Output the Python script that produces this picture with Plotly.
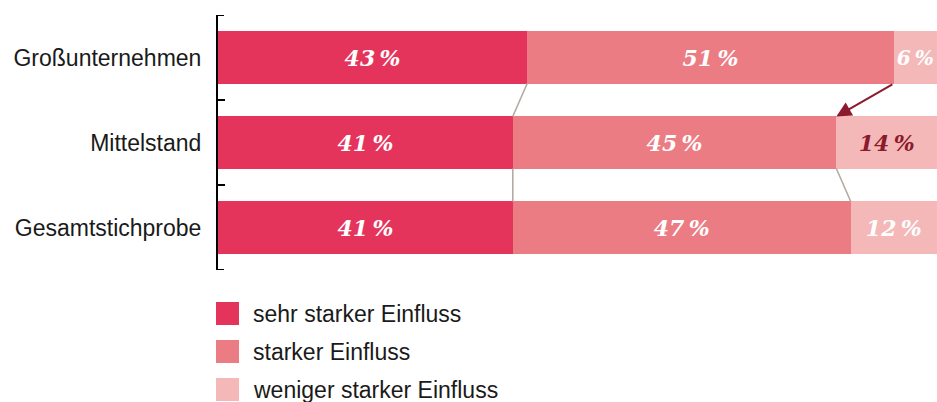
import plotly.graph_objects as go
import numpy as np

categories = ["Großunternehmen", "Mittelstand", "Gesamtstichprobe"]
series_names = ["sehr starker Einfluss", "starker Einfluss", "weniger starker Einfluss"]
sehr_stark = [43, 41, 41]
stark = [51, 45, 47]
weniger = [6, 14, 12]

colors = ["#e5345b", "#ec7c83", "#f5b8b8"]
label_colors = [["white", "white", "white"],
                ["white", "white", "white"],
                ["white", "#8b1a2e", "white"]]
dark_red = "#8b1a2e"
connector = "#b3aaa2"

values = [sehr_stark, stark, weniger]

fig = go.Figure()
for i, (name, vals) in enumerate(zip(series_names, values)):
    fig.add_trace(go.Bar(
        y=categories, x=vals, orientation="h", name=name,
        marker=dict(color=colors[i], line=dict(width=0)),
        text=[f"{v}\u2009%" for v in vals],
        textposition="inside", insidetextanchor="middle",
        textfont=dict(family="DejaVu Serif", size=22, color=label_colors[i],
                      weight="bold", style="italic"),
        textangle=0, hoverinfo="skip", showlegend=False,
        cliponaxis=False,
    ))

bargap = 0.388
half = (1 - bargap) / 2
cum1 = np.array(sehr_stark)
cum2 = cum1 + np.array(stark)

# connector lines between neighbouring bars
shapes = []
for r in range(len(categories) - 1):
    for cum, is_arrow in ((cum1, False), (cum2, r == 0)):
        if is_arrow:
            continue
        shapes.append(dict(type="line", xref="x", yref="y",
                           x0=float(cum[r]), y0=r + half,
                           x1=float(cum[r + 1]), y1=r + 1 - half,
                           line=dict(color=connector, width=1.6), layer="above"))

# end ticks of the category axis (top and bottom boundaries)
for yb in (-0.5, len(categories) - 0.5):
    shapes.append(dict(type="line", xref="x", yref="y", xsizemode="pixel", xanchor=0,
                       x0=-1, x1=6, y0=yb, y1=yb,
                       line=dict(color="black", width=2), layer="above"))

# manual legend
W, H = 937 - 218, 270 - 15
def px_x(p):
    return (p - 218) / W
def px_y(p):
    return (270 - p) / H

for i, name in enumerate(series_names):
    top = 302 + 38 * i
    shapes.append(dict(type="rect", xref="paper", yref="paper",
                       x0=px_x(216), x1=px_x(239), y0=px_y(top), y1=px_y(top + 23),
                       fillcolor=colors[i], line=dict(width=0)))

annotations = []
for i, name in enumerate(series_names):
    annotations.append(dict(xref="paper", yref="paper", x=px_x(251), y=px_y(313.5 + 38 * i),
                            xanchor="left", yanchor="middle", text=name, showarrow=False,
                            font=dict(family="Liberation Sans", size=23, color="#1a1a1a")))

# arrow from Großunternehmen cum2 to Mittelstand cum2
annotations.append(dict(xref="x", yref="y", axref="x", ayref="y",
                        x=float(cum2[1]), y=1 - half, ax=float(cum2[0]), ay=0 + half,
                        showarrow=True, arrowhead=2, arrowsize=1.5, arrowwidth=2,
                        arrowcolor=dark_red, text=""))

fig.update_layout(
    barmode="stack", bargap=bargap,
    width=937, height=402,
    margin=dict(l=218, r=0, t=15, b=132),
    plot_bgcolor="white", paper_bgcolor="white",
    shapes=shapes, annotations=annotations,
    uniformtext=dict(mode=False),
    xaxis=dict(range=[0, 100], visible=False, fixedrange=True),
    yaxis=dict(categoryorder="array", categoryarray=categories,
               range=[2.5, -0.5], showline=True, linecolor="black", linewidth=2,
               ticks="inside", tickson="boundaries", ticklen=7, tickwidth=2,
               tickcolor="black", showgrid=False, zeroline=False,
               ticklabelstandoff=10, fixedrange=True,
               tickfont=dict(family="Liberation Sans", size=23, color="#1a1a1a")),
)

fig.write_html("out.html", config={"displayModeBar": False, "staticPlot": True},
               post_script="document.body.style.margin='0';document.body.style.overflow='hidden';")
